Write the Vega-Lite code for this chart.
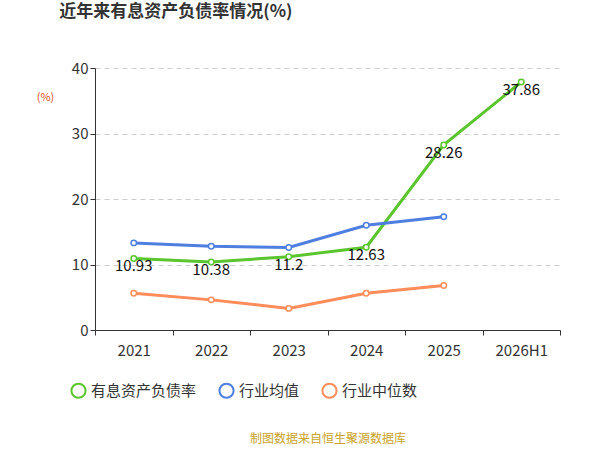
{
  "$schema": "https://vega.github.io/schema/vega-lite/v6.json",
  "width": 465,
  "height": 262,
  "autosize": "none",
  "padding": {"left": 95, "right": 40, "top": 68, "bottom": 120},
  "background": "white",
  "config": {"font": "Noto Sans CJK SC", "view": {"stroke": null}},
  "title": {"text": "近年来有息资产负债率情况(%)", "fontSize": 17, "fontWeight": "bold", "color": "#333", "anchor": "start", "offset": 40, "dx": 23},
  "data": {"values": [
    {"year": "2021", "s": "有息资产负债率", "v": 10.93},
    {"year": "2022", "s": "有息资产负债率", "v": 10.38},
    {"year": "2023", "s": "有息资产负债率", "v": 11.2},
    {"year": "2024", "s": "有息资产负债率", "v": 12.63},
    {"year": "2025", "s": "有息资产负债率", "v": 28.26},
    {"year": "2026H1", "s": "有息资产负债率", "v": 37.86},
    {"year": "2021", "s": "行业均值", "v": 13.3},
    {"year": "2022", "s": "行业均值", "v": 12.8},
    {"year": "2023", "s": "行业均值", "v": 12.6},
    {"year": "2024", "s": "行业均值", "v": 16.0},
    {"year": "2025", "s": "行业均值", "v": 17.3},
    {"year": "2021", "s": "行业中位数", "v": 5.6},
    {"year": "2022", "s": "行业中位数", "v": 4.6},
    {"year": "2023", "s": "行业中位数", "v": 3.3},
    {"year": "2024", "s": "行业中位数", "v": 5.6},
    {"year": "2025", "s": "行业中位数", "v": 6.8}
  ]},
  "encoding": {
    "x": {"field": "year", "type": "nominal", "sort": null, "title": "制图数据来自恒生聚源数据库",
      "axis": {"labelFontSize": 15, "labelColor": "#333", "labelAngle": 0, "domainColor": "#333", "tickColor": "#333", "ticks": true, "tickBand": "extent", "labelPadding": 8, "titleFontSize": 12, "titleColor": "#c9a227", "titleFontWeight": "normal", "titlePadding": 75}},
    "y": {"field": "v", "type": "quantitative", "scale": {"domain": [0, 40]}, "title": "(%)",
      "axis": {"values": [0, 10, 20, 30, 40], "labelFontSize": 15, "labelColor": "#333", "gridDash": [5, 4], "gridColor": "#ccc", "domain": true, "domainColor": "#333", "ticks": true, "tickColor": "#333", "titleColor": "#e0501c", "titleFontSize": 11, "titleFontWeight": "normal", "titleAngle": 0, "titleAlign": "center", "titleBaseline": "middle", "titleX": -50, "titleY": 29}},
    "color": {"field": "s", "type": "nominal", "sort": ["有息资产负债率", "行业均值", "行业中位数"],
      "scale": {"domain": ["有息资产负债率", "行业均值", "行业中位数"], "range": ["#5ac52d", "#4e7fe0", "#ff8c5a"]},
      "legend": {"orient": "none", "legendX": -25, "legendY": 314, "direction": "horizontal", "title": null, "labelFontSize": 15, "labelColor": "#333", "symbolType": "circle", "symbolSize": 200, "symbolStrokeWidth": 2, "symbolFillColor": "white", "columnPadding": 18}}
  },
  "layer": [
    {"mark": {"type": "line", "strokeWidth": 3, "point": {"filled": false, "fill": "white", "size": 30, "strokeWidth": 1.5}}},
    {"transform": [{"filter": "datum.s == '有息资产负债率'"}],
     "mark": {"type": "text", "fontSize": 15, "dy": 8},
     "encoding": {"text": {"field": "v"}, "color": {"value": "#111"}}}
  ]
}
